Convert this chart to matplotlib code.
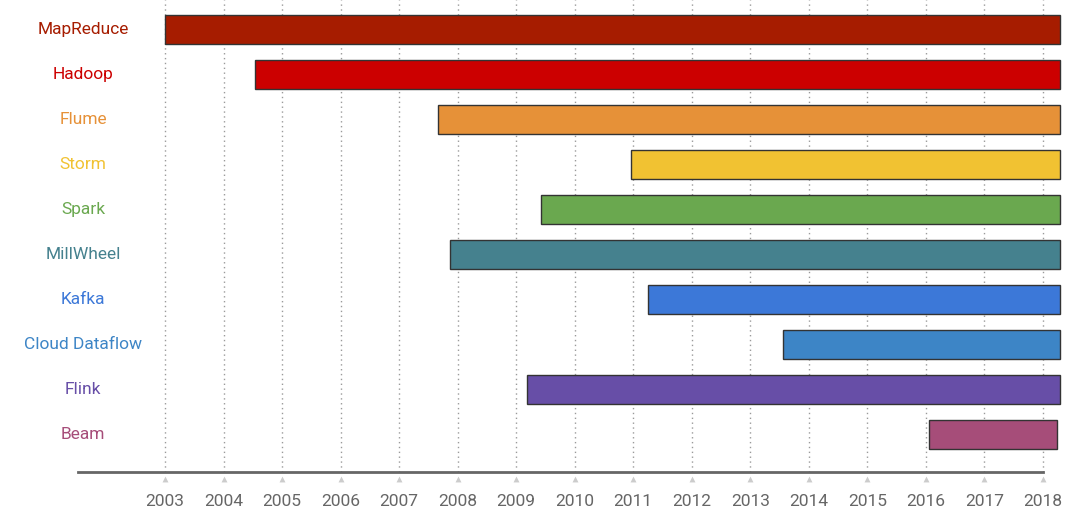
import matplotlib
matplotlib.use("Agg")
import matplotlib.pyplot as plt
from matplotlib.transforms import blended_transform_factory

plt.rcParams['font.family'] = ['Roboto', 'DejaVu Sans']

projects = ["MapReduce", "Hadoop", "Flume", "Storm", "Spark", "MillWheel",
            "Kafka", "Cloud Dataflow", "Flink", "Beam"]
starts = [2003.0, 2004.54, 2007.66, 2010.96, 2009.42, 2007.87,
          2011.25, 2013.56, 2009.18, 2016.05]
ends = [2018.29, 2018.29, 2018.29, 2018.29, 2018.29, 2018.29,
        2018.29, 2018.29, 2018.29, 2018.24]
colors = ["#A61C00", "#CC0000", "#E69138", "#F1C232", "#6AA84F", "#45818E",
          "#3C78D8", "#3D85C6", "#674EA7", "#A64D79"]
years = list(range(2003, 2019))

W, H = 1080, 518
fig = plt.figure(figsize=(W / 100, H / 100), dpi=100)
ax = fig.add_axes([78 / W, (H - 472) / H, 1 - 78 / W, 472 / H])

x0 = 2003 - 87 / 58.53
x1 = 2003 + (1080 - 165) / 58.53
ax.set_xlim(x0, x1)
ax.set_ylim(9.833, -0.656)

ypos = list(range(len(projects)))
widths = [e - s for s, e in zip(starts, ends)]
ax.barh(ypos, widths, left=starts, height=0.66, color=colors,
        edgecolor="#333333", linewidth=1.0, zorder=3)

for y in years:
    ax.axvline(y, color="#9a9a9a", linestyle=(0, (1, 2.5)), linewidth=1.0, zorder=1)

for s in ['top', 'right', 'left']:
    ax.spines[s].set_visible(False)
ax.spines['bottom'].set_bounds(x0, 2018.0)
ax.spines['bottom'].set_color("#666666")
ax.spines['bottom'].set_linewidth(2)
ax.spines['bottom'].set_zorder(4)

ax.set_yticks([])
ax.set_xticks(years)
ax.set_xticklabels([str(y) for y in years], fontsize=12.5, color="#666666")
ax.tick_params(axis='x', length=0, pad=16)

trans_tick = blended_transform_factory(ax.transData, fig.transFigure)
ax.scatter(years, [(H - 479) / H] * len(years), marker='^', s=18,
           color="#cccccc", transform=trans_tick, clip_on=False, zorder=5,
           linewidths=0)

trans_lbl = blended_transform_factory(fig.transFigure, ax.transData)
for name, c, y in zip(projects, colors, ypos):
    ax.text(83 / W, y, name, transform=trans_lbl, ha='center', va='center',
            fontsize=12.5, color=c)

fig.savefig("out.png", dpi=100, facecolor="white")
